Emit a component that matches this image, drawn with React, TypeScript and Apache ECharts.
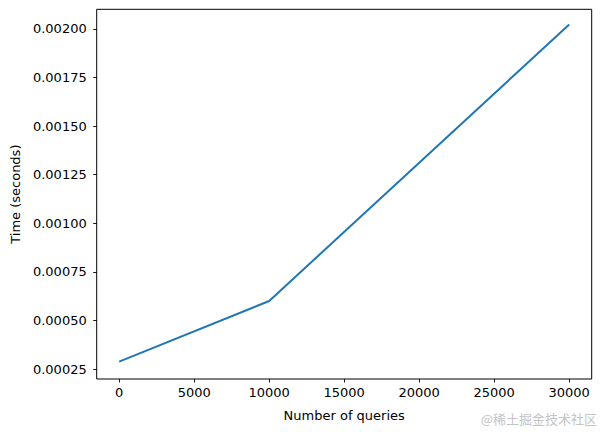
import React, { useEffect, useRef } from "react";
import * as echarts from "echarts";

const queries = [0, 10000, 30000];
const times = [0.000289, 0.000601, 0.002022];
const xTicks = [0, 5000, 10000, 15000, 20000, 25000, 30000];
const yTicks = [0.00025, 0.0005, 0.00075, 0.001, 0.00125, 0.0015, 0.00175, 0.002];

const FONT = "DejaVu Sans";

export default function App() {
  const ref = useRef<HTMLDivElement>(null);
  useEffect(() => {
    document.body.style.margin = "0";
    const chart = echarts.init(ref.current!, null, { renderer: "svg" });
    chart.setOption({
      animation: false,
      backgroundColor: "#fff",
      grid: {
        left: 96.7,
        right: 10.3,
        top: 9.3,
        bottom: 53,
        show: true,
        borderColor: "#000",
        borderWidth: 1,
        backgroundColor: "transparent",
      },
      xAxis: {
        type: "value",
        min: -1500,
        max: 31500,
        name: "Number of queries",
        nameLocation: "middle",
        nameGap: 30,
        nameTextStyle: { fontFamily: FONT, fontSize: 13, color: "#000" },
        axisLine: { show: false, onZero: false },
        splitLine: { show: false },
        axisTick: {
          show: true,
          length: 3.5,
          lineStyle: { color: "#000", width: 0.9 },
          customValues: xTicks,
        },
        axisLabel: {
          fontFamily: FONT,
          fontSize: 13,
          color: "#000",
          margin: 7,
          customValues: xTicks,
          formatter: (v: number) => String(v),
        },
      },
      yAxis: {
        type: "value",
        min: 0.0002,
        max: 0.0021,
        name: "Time (seconds)",
        nameLocation: "middle",
        nameGap: 75,
        nameTextStyle: { fontFamily: FONT, fontSize: 13, color: "#000" },
        axisLine: { show: false, onZero: false },
        splitLine: { show: false },
        axisTick: {
          show: true,
          length: 3.5,
          lineStyle: { color: "#000", width: 0.9 },
          customValues: yTicks,
        },
        axisLabel: {
          fontFamily: FONT,
          fontSize: 13,
          color: "#000",
          margin: 10,
          customValues: yTicks,
          formatter: (v: number) => v.toFixed(5),
        },
      },
      series: [
        {
          type: "line",
          data: queries.map((q, i) => [q, times[i]]),
          showSymbol: false,
          symbol: "none",
          lineStyle: { color: "#1f77b4", width: 2 },
        },
      ],
      graphic: [
        {
          type: "text",
          right: 5,
          top: 412,
          style: {
            text: "@稀土掘金技术社区",
            fontFamily: "Noto Sans CJK SC",
            fontSize: 13,
            fill: "#c4c4c4",
          },
        },
      ],
    });
    return () => chart.dispose();
  }, []);
  return <div ref={ref} style={{ width: 602, height: 432 }} />;
}
